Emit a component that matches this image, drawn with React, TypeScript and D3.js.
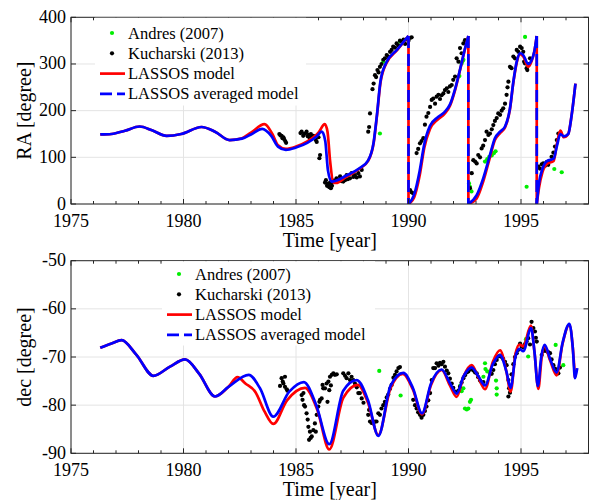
import React from "react";
import * as d3 from "d3";

type Pt = [number, number];

const WIDTH = 591;
const HEIGHT = 500;
const FONT = "Liberation Serif";
const AXIS_COLOR = "#262626";
const GRID_COLOR = "#e4e4e4";
const RED = "#ff0000";
const BLUE = "#0000ff";
const GREEN = "#00ee00";

const X_LEFT = 71;
const X_RIGHT = 588.5;

const yearDomain: Pt = [1975, 1998];
const xTicks = [1975, 1980, 1985, 1990, 1995];
const raTicks = [0, 100, 200, 300, 400];
const decTicks = [-90, -80, -70, -60, -50];
const legendLabels = ["Andres (2007)", "Kucharski (2013)", "LASSOS model", "LASSOS averaged model"];

// ---- RA model curves (year, degree), split where RA wraps 360 -> 0
const raRed: Pt[][] = [
  [
    [1976.3, 149], [1976.8, 150], [1977.4, 157], [1978.05, 166], [1978.6, 158], [1979.25, 146],
    [1979.9, 150], [1980.8, 165], [1981.4, 155], [1982.05, 137], [1982.6, 141], [1983.0, 153],
    [1983.6, 171], [1983.95, 150], [1984.2, 126], [1984.55, 118], [1985.0, 123], [1985.5, 134],
    [1986.0, 153], [1986.28, 171], [1986.4, 155], [1986.52, 90], [1986.66, 46], [1986.78, 45],
    [1987.2, 57], [1987.8, 75], [1988.2, 92], [1988.45, 130], [1988.6, 190], [1988.75, 258],
    [1989.0, 300], [1989.5, 330], [1990.0, 360],
  ],
  [
    [1990.0, 0], [1990.25, 14], [1990.5, 62], [1990.7, 120], [1990.95, 160], [1991.3, 181],
    [1991.6, 193], [1991.85, 211], [1992.07, 244], [1992.3, 289], [1992.5, 330], [1992.66, 360],
  ],
  [
    [1992.66, 0], [1993.03, 12], [1993.32, 48], [1993.62, 100], [1993.84, 137], [1994.07, 152],
    [1994.29, 164], [1994.51, 203], [1994.66, 260], [1994.81, 303], [1994.96, 321], [1995.1, 316],
    [1995.32, 294], [1995.47, 306], [1995.59, 326], [1995.7, 360],
  ],
  [
    [1995.7, 0], [1995.8, 35], [1995.95, 68], [1996.15, 86], [1996.45, 92], [1996.6, 130],
    [1996.75, 157], [1996.9, 143], [1997.1, 150], [1997.25, 190], [1997.42, 258],
  ],
];

const raBlue: Pt[][] = [
  [
    [1976.3, 149], [1976.8, 150], [1977.4, 157], [1978.05, 166], [1978.6, 158], [1979.25, 146],
    [1979.9, 150], [1980.8, 165], [1981.4, 155], [1982.05, 137], [1982.6, 140], [1983.0, 149],
    [1983.5, 161], [1983.9, 146], [1984.2, 123], [1984.55, 116], [1985.0, 121], [1985.5, 131],
    [1985.9, 144], [1986.15, 155], [1986.3, 135], [1986.42, 72], [1986.58, 48], [1986.78, 50],
    [1987.2, 60], [1987.8, 76], [1988.2, 93], [1988.45, 132], [1988.6, 192], [1988.75, 262],
    [1989.0, 302], [1989.5, 331], [1990.0, 360],
  ],
  [
    [1990.0, 0], [1990.25, 20], [1990.5, 72], [1990.7, 128], [1990.95, 167], [1991.3, 186],
    [1991.6, 197], [1991.85, 214], [1992.07, 246], [1992.3, 290], [1992.5, 331], [1992.66, 360],
  ],
  [
    [1992.66, 0], [1993.03, 19], [1993.32, 55], [1993.62, 105], [1993.84, 141], [1994.07, 155],
    [1994.29, 166], [1994.51, 205], [1994.66, 262], [1994.81, 305], [1994.96, 323], [1995.1, 319],
    [1995.32, 300], [1995.47, 308], [1995.59, 326], [1995.7, 360],
  ],
  [
    [1995.7, 0], [1995.8, 45], [1995.95, 75], [1996.15, 92], [1996.45, 97], [1996.6, 125],
    [1996.75, 150], [1996.9, 145], [1997.1, 150], [1997.25, 190], [1997.42, 258],
  ],
];

// ---- dec model curves (year, degree)
const decRed: Pt[][] = [
  [
    [1976.3, -68.1], [1976.8, -67.2], [1977.25, -66.5], [1977.9, -69.5], [1978.66, -73.9],
    [1979.4, -72], [1980.07, -70.5], [1980.7, -73.5], [1981.4, -78.2], [1982.0, -76.2],
    [1982.4, -74.2], [1982.75, -75.5], [1983.2, -77.3], [1983.6, -81.3], [1983.99, -83.9],
    [1984.6, -79], [1985.4, -76.4], [1985.95, -81], [1986.48, -89.2], [1987.1, -78.5],
    [1987.75, -75.8], [1988.2, -79.5], [1988.66, -86.2], [1989.2, -76.5], [1989.75, -73.5],
    [1990.2, -76.8], [1990.6, -81.9], [1991.0, -75.8], [1991.47, -72.7], [1991.85, -76],
    [1992.14, -78.3], [1992.45, -74], [1992.81, -71.7], [1993.1, -74.2], [1993.4, -76.7],
    [1993.75, -71], [1994.07, -68.6], [1994.35, -73], [1994.54, -77.2], [1994.75, -69.5],
    [1994.93, -67.4], [1995.1, -67.8], [1995.44, -63.5], [1995.6, -69], [1995.77, -76.6],
    [1995.92, -70], [1996.05, -67.8], [1996.3, -70.8], [1996.58, -73.8], [1996.85, -67.2],
    [1997.15, -63.3], [1997.3, -68], [1997.4, -74.3],
  ],
];

const decBlue: Pt[][] = [
  [
    [1976.3, -68.1], [1976.8, -67.2], [1977.25, -66.5], [1977.9, -69.5], [1978.66, -73.9],
    [1979.4, -72], [1980.07, -70.5], [1980.7, -73.5], [1981.4, -78.2], [1982.0, -76.2],
    [1982.9, -73.7], [1983.4, -76.5], [1983.99, -82.4], [1984.7, -77.2], [1985.35, -75.2],
    [1985.9, -80], [1986.48, -88.1], [1987.1, -77], [1987.7, -74.8], [1988.2, -79],
    [1988.66, -86.4], [1989.2, -76], [1989.77, -73.3], [1990.2, -76.5], [1990.6, -81.7],
    [1991.0, -75.5], [1991.47, -72.6], [1991.85, -75.5], [1992.14, -77.6], [1992.45, -74],
    [1992.81, -72.2], [1993.1, -74], [1993.4, -75.9], [1993.75, -71.5], [1994.07, -69.6],
    [1994.35, -73], [1994.54, -76.4], [1994.75, -70], [1994.93, -68.3], [1995.1, -68.8],
    [1995.45, -64], [1995.6, -69], [1995.75, -76], [1995.9, -70], [1996.05, -67.5],
    [1996.3, -70.5], [1996.58, -73.2], [1996.85, -67], [1997.15, -63.1], [1997.3, -68],
    [1997.4, -74.4], [1997.5, -72.3],
  ],
];

// ---- observations
const kucharskiRA: Pt[] = [
  [1984.26, 150], [1984.31, 147], [1984.36, 146], [1984.4, 141], [1984.44, 143], [1984.47, 139],
  [1984.52, 135], [1984.56, 131],
  [1985.2, 152], [1985.25, 155], [1985.32, 146], [1985.36, 150], [1985.4, 151], [1985.47, 155],
  [1985.52, 145], [1985.55, 148], [1985.62, 140], [1985.66, 150], [1985.7, 144], [1985.77, 146],
  [1985.84, 141], [1985.88, 137], [1985.92, 133], [1986.0, 143], [1986.04, 98], [1986.07, 105],
  [1986.29, 46], [1986.33, 51], [1986.38, 39], [1986.4, 43], [1986.44, 41], [1986.48, 36],
  [1986.51, 46], [1986.55, 34], [1986.57, 45], [1986.6, 39], [1986.66, 50], [1986.8, 55],
  [1986.88, 52], [1986.96, 59], [1987.03, 49], [1987.1, 48], [1987.18, 51], [1987.25, 62],
  [1987.3, 53], [1987.4, 55], [1987.47, 66], [1987.55, 58], [1987.62, 62], [1987.7, 57],
  [1987.77, 66], [1987.84, 59], [1987.92, 73],
  [1988.21, 155], [1988.25, 165], [1988.29, 194], [1988.4, 246], [1988.45, 258], [1988.51, 276],
  [1988.56, 272], [1988.62, 287], [1988.67, 282], [1988.73, 294], [1988.8, 300], [1988.88, 309],
  [1988.95, 312], [1989.03, 319], [1989.1, 316], [1989.18, 326], [1989.25, 330], [1989.32, 337],
  [1989.4, 335], [1989.47, 344], [1989.55, 340], [1989.62, 350], [1989.7, 348], [1989.78, 352],
  [1989.85, 343], [1989.92, 353], [1990.0, 350], [1990.07, 356], [1990.14, 357],
  [1990.07, 30], [1990.14, 25], [1990.21, 23],
  [1990.36, 109], [1990.43, 118], [1990.51, 130], [1990.58, 135], [1990.66, 141], [1990.73, 170],
  [1990.8, 187], [1990.88, 195], [1990.96, 208], [1991.03, 223], [1991.1, 226], [1991.18, 215],
  [1991.25, 230], [1991.33, 234], [1991.4, 225], [1991.47, 233], [1991.55, 237], [1991.62, 244],
  [1991.7, 248], [1991.77, 240], [1991.84, 252], [1991.92, 255], [1991.99, 266], [1992.07, 273],
  [1992.14, 312], [1992.22, 305], [1992.29, 334], [1992.36, 323], [1992.44, 344], [1992.51, 351],
  [1992.73, 34], [1992.81, 66], [1992.88, 94], [1992.96, 91], [1993.03, 87], [1993.1, 105],
  [1993.18, 100], [1993.25, 119], [1993.32, 125], [1993.4, 137], [1993.47, 155], [1993.55, 148],
  [1993.62, 151], [1993.7, 160], [1993.77, 169], [1993.84, 178], [1993.92, 184], [1993.99, 194],
  [1994.07, 191], [1994.14, 200], [1994.21, 205], [1994.29, 215], [1994.36, 234], [1994.4, 250],
  [1994.44, 262], [1994.51, 294], [1994.58, 291], [1994.66, 316], [1994.73, 312], [1994.81, 330],
  [1994.88, 326], [1994.96, 337], [1995.03, 334], [1995.1, 326], [1995.14, 305], [1995.18, 301],
  [1995.25, 291], [1995.28, 287], [1995.35, 300], [1995.4, 312],
  [1995.77, 80], [1995.84, 76], [1995.92, 85], [1995.99, 87], [1996.07, 82], [1996.14, 90],
  [1996.21, 84], [1996.29, 92], [1996.36, 101], [1996.44, 110], [1996.51, 123], [1996.59, 137],
  [1996.66, 151],
];

const andresRA: Pt[] = [
  [1988.73, 151], [1988.88, 305], [1989.62, 348], [1992.26, 274], [1992.36, 301], [1992.4, 306],
  [1992.44, 309], [1992.69, 44], [1992.73, 37], [1992.8, 27], [1993.4, 91], [1993.5, 96],
  [1993.59, 101], [1993.7, 104], [1993.8, 109], [1993.87, 113], [1995.18, 358], [1995.25, 37],
  [1996.48, 75], [1996.81, 68],
];

const kucharskiDec: Pt[] = [
  [1984.29, -76], [1984.36, -74.4], [1984.41, -75.1], [1984.44, -75.5], [1984.51, -74.1],
  [1984.51, -76.2], [1984.59, -76.7], [1984.62, -77],
  [1985.25, -77.9], [1985.29, -78.9], [1985.33, -77.5], [1985.36, -80], [1985.4, -80.3],
  [1985.47, -81.7], [1985.52, -83], [1985.55, -84.5], [1985.58, -87.2], [1985.62, -85.5],
  [1985.65, -86.8], [1985.7, -86.5], [1985.77, -85.2], [1985.84, -83.8], [1985.88, -85.5],
  [1985.92, -82], [1985.99, -80.3], [1986.04, -79.3], [1986.07, -78.9], [1986.14, -78.6],
  [1986.18, -75.8], [1986.21, -76.5], [1986.29, -76.5], [1986.36, -75.5], [1986.4, -79.3],
  [1986.44, -75.1], [1986.48, -76.9], [1986.51, -74.1], [1986.55, -75.9], [1986.59, -73.7],
  [1986.66, -73.4], [1986.73, -73.7], [1986.81, -73.6],
  [1987.1, -73.4], [1987.18, -73.9], [1987.25, -74.4], [1987.33, -73.4], [1987.4, -74.8],
  [1987.47, -74.1], [1987.55, -74.8], [1987.62, -75.5], [1987.7, -76.3], [1987.77, -77.5],
  [1987.84, -77.5], [1987.92, -78.6], [1988.0, -79.5],
  [1988.21, -82], [1988.25, -81], [1988.29, -83.4], [1988.36, -83.7], [1988.44, -83.8],
  [1988.51, -83.4], [1988.58, -83.4], [1988.66, -81.7], [1988.73, -82], [1988.8, -80.7],
  [1988.88, -80], [1988.95, -79.3], [1989.03, -78.4], [1989.1, -77.8], [1989.18, -76.6],
  [1989.25, -75.8], [1989.33, -74.3], [1989.4, -73.7], [1989.47, -73], [1989.55, -72.3],
  [1989.62, -72.1],
  [1990.21, -78.9], [1990.29, -80], [1990.36, -80.7], [1990.43, -81.5], [1990.51, -82],
  [1990.58, -82.6], [1990.66, -82], [1990.73, -81.2], [1990.8, -80.3], [1990.88, -79],
  [1990.96, -77.5], [1991.03, -74.8], [1991.1, -72.3], [1991.18, -72.3], [1991.25, -71.3],
  [1991.33, -71.8], [1991.4, -71.2], [1991.47, -71.5], [1991.55, -71], [1991.62, -72],
  [1991.7, -72.8], [1991.77, -73.4], [1991.84, -74.5], [1991.92, -75.5], [1991.99, -76.4],
  [1992.07, -77.2],
  [1992.22, -77], [1992.29, -76.2], [1992.36, -75.3], [1992.44, -74.4], [1992.51, -73.8],
  [1992.59, -73.2], [1992.66, -73], [1992.73, -72.6], [1992.81, -72.3], [1992.88, -72.8],
  [1992.96, -73.2], [1993.03, -73.4], [1993.1, -74.2], [1993.18, -74.9], [1993.25, -75.3],
  [1993.33, -75.2],
  [1993.7, -73.5], [1993.77, -72.7], [1993.84, -71.5], [1993.92, -70.6], [1993.99, -69.9],
  [1994.07, -69.7], [1994.14, -70], [1994.21, -70.4], [1994.29, -71], [1994.36, -71.7],
  [1994.44, -74.8], [1994.47, -76.5], [1994.44, -78.2], [1994.51, -77.4], [1994.58, -73.6],
  [1994.66, -71.5], [1994.73, -70], [1994.81, -69.2], [1994.88, -68.5], [1994.96, -67.2],
  [1995.03, -67.8], [1995.1, -68], [1995.18, -67.3], [1995.25, -66.8], [1995.32, -66.1],
  [1995.4, -67.4], [1995.44, -64], [1995.47, -62.7], [1995.55, -64], [1995.62, -64.7],
  [1995.66, -66], [1995.7, -66.8],
  [1995.92, -69.6], [1995.99, -68.8], [1996.07, -68.5], [1996.14, -68.8], [1996.21, -69],
  [1996.29, -69.2], [1996.36, -70.5], [1996.44, -71.7], [1996.51, -72.4], [1996.59, -73],
  [1996.66, -73.4], [1996.73, -72.2],
];

const andresDec: Pt[] = [
  [1988.7, -72.9], [1989.65, -78], [1992.29, -76], [1992.36, -77.1], [1992.44, -76.5],
  [1992.51, -80.7], [1992.59, -80.9], [1992.66, -80.7], [1992.73, -79.3], [1992.78, -78.9],
  [1993.33, -74.1], [1993.4, -71.3], [1993.42, -72.5], [1993.5, -73], [1993.62, -73.5],
  [1993.89, -74.9], [1993.92, -76.5], [1993.92, -77.8], [1995.22, -66.3], [1995.32, -69.9],
  [1996.54, -67.5], [1996.88, -71.7],
];

type LegendBox = { x0: number; x1: number; y1: number; markX: number; lineX: number; textX: number; rowY: number };

function Panel(props: {
  id: string;
  top: number;
  bottom: number;
  yDomain: Pt;
  yTicks: number[];
  yLabel: string;
  red: Pt[][];
  blue: Pt[][];
  kuch: Pt[];
  andres: Pt[];
  legend: LegendBox;
}) {
  const { id, top, bottom, yDomain, yTicks, yLabel, red, blue, kuch, andres, legend } = props;
  const x = d3.scaleLinear().domain(yearDomain).range([X_LEFT, X_RIGHT]);
  const y = d3.scaleLinear().domain(yDomain).range([bottom, top]);
  const line = d3
    .line<Pt>()
    .x((d) => x(d[0]))
    .y((d) => y(d[1]))
    .curve(d3.curveMonotoneX);
  const straight = d3
    .line<Pt>()
    .x((d) => x(d[0]))
    .y((d) => y(d[1]));
  const minorYears = d3.range(yearDomain[0], yearDomain[1] + 1);
  const jumps = (segs: Pt[][]) =>
    segs.slice(0, -1).map((s, i) => [s[s.length - 1], segs[i + 1][0]] as Pt[]);
  const rowGap = 20.3;

  return (
    <g>
      <defs>
        <clipPath id={id}>
          <rect x={X_LEFT} y={top} width={X_RIGHT - X_LEFT} height={bottom - top} />
        </clipPath>
      </defs>
      {/* grid */}
      {xTicks.map((t) => (
        <line key={"gx" + t} x1={x(t)} x2={x(t)} y1={top} y2={bottom} stroke={GRID_COLOR} strokeWidth={1} />
      ))}
      {yTicks.map((t) => (
        <line key={"gy" + t} x1={X_LEFT} x2={X_RIGHT} y1={y(t)} y2={y(t)} stroke={GRID_COLOR} strokeWidth={1} />
      ))}
      <g clipPath={`url(#${id})`}>
        {andres.map((d, i) => (
          <circle key={"a" + i} cx={x(d[0])} cy={y(d[1])} r={2.1} fill={GREEN} />
        ))}
        {kuch.map((d, i) => (
          <circle key={"k" + i} cx={x(d[0])} cy={y(d[1])} r={2.1} fill="#000" />
        ))}
        {red.map((s, i) => (
          <path key={"r" + i} d={line(s) ?? ""} fill="none" stroke={RED} strokeWidth={2.7} />
        ))}
        {jumps(red).map((s, i) => (
          <path key={"rj" + i} d={straight(s) ?? ""} fill="none" stroke={RED} strokeWidth={2.7} />
        ))}
        {blue.map((s, i) => (
          <path key={"b" + i} d={line(s) ?? ""} fill="none" stroke={BLUE} strokeWidth={2.7} />
        ))}
        {jumps(blue).map((s, i) => (
          <path key={"bj" + i} d={straight(s) ?? ""} fill="none" stroke={BLUE} strokeWidth={2.7} strokeDasharray="12 6" />
        ))}
      </g>
      {/* axes box and ticks */}
      <rect x={X_LEFT} y={top} width={X_RIGHT - X_LEFT} height={bottom - top} fill="none" stroke={AXIS_COLOR} strokeWidth={1} />
      {minorYears.map((t) => {
        const major = xTicks.includes(t);
        const len = major ? 5 : 3;
        return (
          <g key={"tx" + t}>
            <line x1={x(t)} x2={x(t)} y1={bottom} y2={bottom - len} stroke={AXIS_COLOR} />
            <line x1={x(t)} x2={x(t)} y1={top} y2={top + len} stroke={AXIS_COLOR} />
          </g>
        );
      })}
      {yTicks.map((t) => (
        <g key={"ty" + t}>
          <line x1={X_LEFT} x2={X_LEFT + 5} y1={y(t)} y2={y(t)} stroke={AXIS_COLOR} />
          <line x1={X_RIGHT} x2={X_RIGHT - 5} y1={y(t)} y2={y(t)} stroke={AXIS_COLOR} />
          <text x={X_LEFT - 5} y={y(t) + 5.5} textAnchor="end" fontSize={18} fontFamily={FONT} fill="#000">
            {t}
          </text>
        </g>
      ))}
      {xTicks.map((t) => (
        <text key={"lx" + t} x={x(t)} y={bottom + 23} textAnchor="middle" fontSize={18} fontFamily={FONT} fill="#000">
          {t}
        </text>
      ))}
      <text x={(X_LEFT + X_RIGHT) / 2} y={bottom + 42.5} textAnchor="middle" fontSize={20} fontFamily={FONT} fill="#000">
        Time [year]
      </text>
      <text
        transform={`translate(31,${(top + bottom) / 2}) rotate(-90)`}
        textAnchor="middle"
        fontSize={20}
        fontFamily={FONT}
        fill="#000"
      >
        {yLabel}
      </text>
      {/* legend */}
      <rect x={legend.x0} y={top + 0.5} width={legend.x1 - legend.x0} height={legend.y1 - top} fill="#fff" />
      <circle cx={legend.markX} cy={legend.rowY} r={2.1} fill={GREEN} />
      <circle cx={legend.markX} cy={legend.rowY + rowGap} r={2.1} fill="#000" />
      <line x1={legend.lineX} x2={legend.lineX + 25} y1={legend.rowY + 2 * rowGap} y2={legend.rowY + 2 * rowGap} stroke={RED} strokeWidth={2.7} />
      <line
        x1={legend.lineX}
        x2={legend.lineX + 25}
        y1={legend.rowY + 3 * rowGap}
        y2={legend.rowY + 3 * rowGap}
        stroke={BLUE}
        strokeWidth={2.7}
        strokeDasharray="12 5"
      />
      {legendLabels.map((l, i) => (
        <text key={l} x={legend.textX} y={legend.rowY + i * rowGap + 5.5} fontSize={16.5} fontFamily={FONT} fill="#000">
          {l}
        </text>
      ))}
    </g>
  );
}

export default function App() {
  return (
    <svg width={WIDTH} height={HEIGHT} style={{ position: "absolute", left: 0, top: 0, background: "#fff" }}>
      <rect width={WIDTH} height={HEIGHT} fill="#fff" />
      <Panel
        id="clipRA"
        top={17.3}
        bottom={204}
        yDomain={[0, 400]}
        yTicks={raTicks}
        yLabel="RA [degree]"
        red={raRed}
        blue={raBlue}
        kuch={kucharskiRA}
        andres={andresRA}
        legend={{ x0: 95, x1: 306, y1: 105, markX: 112, lineX: 100, textX: 128, rowY: 33 }}
      />
      <Panel
        id="clipDec"
        top={260.7}
        bottom={453.3}
        yDomain={[-90, -50]}
        yTicks={decTicks}
        yLabel="dec [degree]"
        red={decRed}
        blue={decBlue}
        kuch={kucharskiDec}
        andres={andresDec}
        legend={{ x0: 162, x1: 375, y1: 345, markX: 179, lineX: 167, textX: 195, rowY: 274 }}
      />
    </svg>
  );
}
